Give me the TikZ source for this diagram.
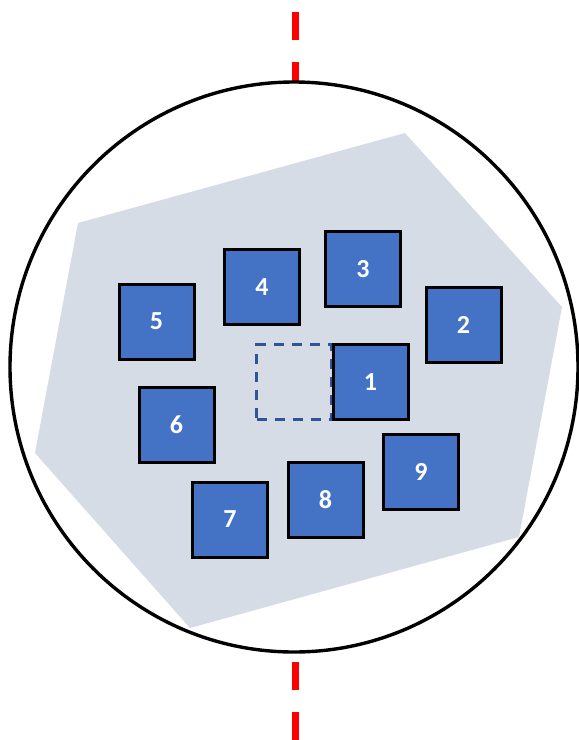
\documentclass[tikz,border=0pt]{standalone}
\usepackage{fontspec}
\setmainfont{Carlito}
\definecolor{polyfill}{RGB}{214,220,229}
\definecolor{boxfill}{RGB}{68,114,196}
\definecolor{dashblue}{RGB}{47,85,151}
\tikzset{
  numbox/.style={draw=black, line width=3pt, fill=boxfill, minimum size=75pt, inner sep=0pt,
    text=white, font=\fontsize{26}{26}\selectfont\bfseries},
  ghostbox/.style={draw=dashblue, line width=2.6pt, dash pattern=on 10pt off 8pt, minimum size=75pt, inner sep=0pt},
  axisline/.style={draw=red, line width=7pt, dash pattern=on 28pt off 22pt},
}
\begin{document}
\begin{tikzpicture}[x=1pt,y=-1pt]
\useasboundingbox (0,0) rectangle (579,740);
% axis
\coordinate (topA) at (295,12);
\coordinate (topB) at (295,84);
\coordinate (botA) at (295,662);
\coordinate (botB) at (295,740);
\draw[axisline] (topA) -- (topB);
\draw[axisline] (botA) -- (botB);
% circle
\draw[line width=3.4pt, fill=white] (294,367) ellipse [x radius=284, y radius=285];
% polygon
\fill[polyfill] (78,223) -- (405,133) -- (562,307) -- (519,537) -- (190,628) -- (35,453) -- cycle;
% dashed square
\node[ghostbox] (g) at (294,382) {};
% boxes
\node[numbox] (n1) at (370.5,382) {1};
\node[numbox] (n2) at (463.5,325) {2};
\node[numbox] (n3) at (363,269) {3};
\node[numbox] (n4) at (262,287) {4};
\node[numbox] (n5) at (156.5,321.5) {5};
\node[numbox] (n6) at (176.5,424.5) {6};
\node[numbox] (n7) at (230,519.5) {7};
\node[numbox] (n8) at (325.5,500) {8};
\node[numbox] (n9) at (421,471.5) {9};
\end{tikzpicture}
\end{document}
